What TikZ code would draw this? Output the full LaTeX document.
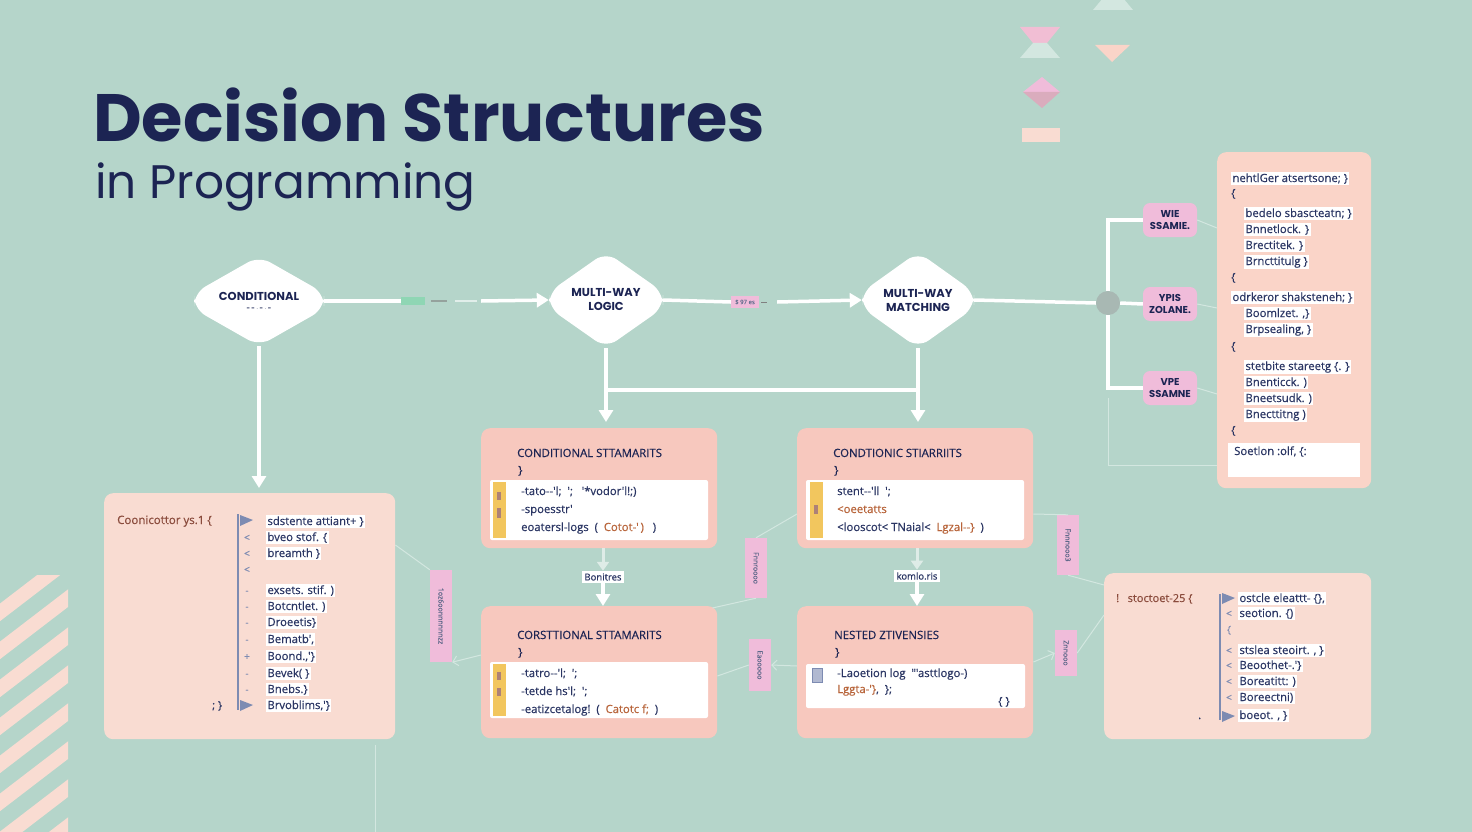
\documentclass[tikz,border=0pt]{standalone}
\usepackage{fontspec}
\setmainfont{Poppins}
\newfontfamily\codef{Open Sans}[FakeBold=0.5]
\usetikzlibrary{arrows.meta,calc}
\definecolor{bg}{HTML}{B5D5CA}
\definecolor{navy}{HTML}{1C2453}
\definecolor{ink}{HTML}{2A3563}
\definecolor{peachL}{HTML}{F9DCD2}
\definecolor{salmon}{HTML}{F7C8BE}
\definecolor{peachR}{HTML}{FAD4C8}
\definecolor{pinkL}{HTML}{F0BCDA}
\definecolor{brownT}{HTML}{8A4B3C}
\definecolor{orangeT}{HTML}{B8643A}
\definecolor{yel}{HTML}{F2C65E}
\definecolor{faint}{HTML}{D3E7E0}
\definecolor{slate}{HTML}{7D8BB2}
\definecolor{greenL}{HTML}{8FD6B4}
\definecolor{grayC}{HTML}{A8B8B3}
\newcommand\hexshape[4]{\fill[white, rounded corners=13pt] (#1,#2-#4) -- (#1+#3,#2-8) -- (#1+#3,#2+8) -- (#1,#2+#4) -- (#1-#3,#2+8) -- (#1-#3,#2-8) -- cycle;}
\begin{document}
\begin{tikzpicture}[x=1pt,y=-1pt,
 box/.style={rectangle, rounded corners=9pt, inner sep=0, anchor=north west},
 wire/.style={white, line width=3.5pt},
 tip/.style={-{Triangle[width=14pt,length=12pt]}},
 thinl/.style={faint, line width=1pt},
 dnode/.style={inner sep=0, align=center, font=\fontsize{11.5}{14}\selectfont\bfseries, text=navy},
 ln/.style={font=\codef\fontsize{11.3}{13}\selectfont, text=ink, anchor=base west, inner sep=1.3pt, fill=white},
 lnp/.style={font=\codef\fontsize{11.3}{13}\selectfont, text=ink, anchor=base west, inner sep=0pt},
 hdr/.style={font=\codef\fontsize{11.4}{13}\selectfont, text=navy, anchor=base west, inner sep=0pt},
 mk/.style={font=\codef\fontsize{10}{11}\selectfont, text=slate, anchor=base, inner sep=0pt},
 pl/.style={rectangle, rounded corners=7pt, fill=pinkL, align=center, font=\fontsize{10}{11.5}\selectfont\bfseries, text=navy, minimum width=54, minimum height=34, inner sep=0},
 pv/.style={rectangle, fill=pinkL, minimum width=22, inner sep=0},
 pvt/.style={rotate=-90, font=\codef\fontsize{7}{8}\selectfont, text=ink!75, inner sep=0},
 lab/.style={rectangle, fill=white, font=\codef\fontsize{9.5}{11}\selectfont, text=ink, inner sep=2.5pt}
]
\fill[bg] (0,0) rectangle (1472,832);
\useasboundingbox (0,0) rectangle (1472,832);

% decorations: stripes
\begin{scope}
\clip (0,575) rectangle (68,832);
\foreach \k in {0,...,8} \draw[peachL, line width=14pt] (-10,620+\k*38) -- (80,620+\k*38-69);
\end{scope}
% decorations: top right shapes
\fill[faint] (1093,10) -- (1133,10) -- (1123,-2) -- (1103,-2) -- cycle;
\fill[pinkL!80!salmon] (1020,27) -- (1060,27) -- (1047,43) -- (1033,43) -- cycle;
\fill[faint] (1033,43) -- (1047,43) -- (1060,58) -- (1020,58) -- cycle;
\fill[peachR] (1095,45) -- (1130,45) -- (1112,62) -- cycle;
\fill[pinkL] (1023,92) -- (1042,77) -- (1060,92) -- cycle;
\fill[pinkL!70!salmon!90!black] (1023,92) -- (1060,92) -- (1042,108) -- cycle;
\fill[peachL] (1022,128) rectangle (1060,142);

% title
\node[anchor=base west, inner sep=0, text=navy, font=\fontsize{67}{76}\selectfont\bfseries] (title) at (93,142) {Decision Structures};
\node[anchor=base west, inner sep=0, text=navy, font=\fontsize{47}{54}\selectfont] (subtitle) at (95,198) {in Programming};

% decision nodes
\hexshape{259}{301}{65}{45}
\node[dnode, minimum width=130, minimum height=90] (d1) at (259,301) {CONDITIONAL\\[-4pt]{\fontsize{6}{7}\selectfont - - $\cdot$ - $\cdot$ -}};
\hexshape{606}{300}{57}{48}
\node[dnode, minimum width=114, minimum height=96] (d2) at (606,300) {MULTI-WAY\\LOGIC};
\hexshape{918}{300}{56}{48}
\node[dnode, minimum width=112, minimum height=96] (d3) at (918,300) {MULTI-WAY\\MATCHING};

% boxes
\node[box, fill=peachL, minimum width=291, minimum height=246] (L) at (104,493) {};
\node[box, fill=salmon, minimum width=236, minimum height=120] (A) at (481,428) {};
\node[box, fill=salmon, minimum width=236, minimum height=120] (B) at (797,428) {};
\node[box, fill=salmon, minimum width=236, minimum height=132] (C) at (481,606) {};
\node[box, fill=salmon, minimum width=236, minimum height=132] (D) at (797,606) {};
\node[box, fill=peachR, minimum width=154, minimum height=336] (R) at (1217,152) {};
\node[box, fill=peachL, minimum width=267, minimum height=166] (E) at (1104,573) {};

% top row connectors
\node[rectangle, fill=greenL, minimum width=24, minimum height=8, inner sep=0] (g1) at (413,301) {};
\draw[wire] (d1.east) -- (g1.west);
\draw[line width=2pt, gray!60!bg] ($(g1.east)+(6,0)$) -- ($(g1.east)+(22,0)$);
\draw[line width=2pt, white!60!bg] ($(g1.east)+(30,0)$) -- ($(g1.east)+(52,0)$);
\draw[wire, tip] ($(g1.east)+(56,0)$) -- (d2.west);
\node[rectangle, fill=pinkL, minimum width=28, minimum height=12, inner sep=0, font=\codef\fontsize{6}{7}\selectfont, text=ink!70] (p1) at (745,302) {\$ 97 es};
\draw[wire] (d2.east) -- (p1.west);
\draw[line width=1pt, gray] ($(p1.east)+(2,0)$) -- ($(p1.east)+(8,0)$);
\draw[wire, tip] ($(p1.east)+(18,0)$) -- (d3.west);

\node[circle, fill=grayC, minimum size=24, inner sep=0] (c1) at (1108,303) {};
\node[pl] (y1) at (1170,220) {WIE\\SSAMIE.};
\node[pl] (y2) at (1170,304) {YPIS\\ZOLANE.};
\node[pl] (y3) at (1170,388) {VPE\\SSAMNE};
\draw[wire] (d3.east) -- (c1.west);
\draw[wire] (c1.east) -- (y2.west);
\draw[wire] (y1.west) -| (c1.north);
\draw[wire] (y3.west) -| (c1.south);
\draw[thinl] (y1.east) -- ($(R.west |- y1.east)+(0,8)$);
\draw[thinl] (y2.east) -- ($(R.west |- y2.east)+(0,4)$);
\draw[thinl] (y3.east) -- ($(R.west |- y3.east)+(0,6)$);
\draw[thinl] ($(c1.south)+(0,83)$) -- ($(c1.south)+(0,150)$) -- ($(R.west |- c1.south)+(0,150)$);

% vertical connectors
\draw[wire, tip, shorten >=5pt] (d1.south) -- (d1.south |- L.north);
\draw[wire, tip, shorten >=6pt] (d2.south) -- (d2.south |- A.north);
\draw[wire, tip, shorten >=6pt] (d3.south) -- (d3.south |- B.north);
\draw[wire] ($(d2.south)+(0,42)$) -- ($(d3.south)+(0,42)$);

\node[lab] (lb1) at (603,577) {Bonitres};
\node[lab] (lb2) at (917,576) {komlo.ris};
\draw[white!55!bg, line width=3pt, -{Triangle[width=12pt,length=9pt]}] (lb1.north |- A.south) -- (lb1.north);
\draw[wire, tip] (lb1.south) -- (lb1.south |- C.north);
\draw[white!55!bg, line width=3pt, -{Triangle[width=12pt,length=9pt]}] (lb2.north |- B.south) -- (lb2.north);
\draw[wire, tip] (lb2.south) -- (lb2.south |- D.north);

% pink vertical labels
\node[pv, minimum height=92] (pv1) at (441,616) {};
\node[pvt] (pv1t) at (pv1) {1oz6oonnnnnnzz};
\node[pv, minimum height=60] (pv2) at (756,568) {};
\node[pvt] (pv2t) at (pv2) {Fnnroooo};
\node[pv, minimum height=52] (pv3) at (760,665) {};
\node[pvt] (pv3t) at (pv3) {Eaooooo};
\node[pv, minimum height=60] (pv4) at (1068,545) {};
\node[pvt] (pv4t) at (pv4) {Fnnnooo3};
\node[pv, minimum height=46] (pv5) at (1066,653) {};
\node[pvt] (pv5t) at (pv5) {Znnooo};

\draw[thinl] ($(L.north east)+(0,52)$) -- (pv1.north west);
\draw[thinl, -{Straight Barb[length=5pt]}] ($(C.north west)+(0,49)$) -- (pv1.south east);
\draw[thinl] ($(B.north west)+(0,86)$) -- (pv2.north);
\draw[thinl] (pv2.south) -- ($(C.north east)+(-5,2)$);
\draw[thinl, -{Straight Barb[length=5pt]}] ($(D.north west)+(0,60)$) -- (pv3.east);
\draw[thinl] (pv3.west) -- ($(C.north east)+(0,70)$);
\draw[thinl] ($(B.north east)+(0,86)$) -- (pv4.north);
\draw[thinl] (pv4.south) -- ($(E.north west)+(0,12)$);
\draw[thinl, -{Straight Barb[length=5pt]}] ($(D.north east)+(0,56)$) -- (pv5.west);
\draw[thinl] (pv5.east) -- ($(E.north west)+(0,42)$);
\draw[thinl] ($(L.south east)+(-20,6)$) -- ($(L.south east)+(-20,95)$);

% left box content
\node[anchor=base west, inner sep=0, text=brownT, font=\codef\fontsize{11.5}{13}\selectfont] (Lh) at (117,524) {Coonicottor ys.1 \{};
\draw[slate, line width=1.5pt] (238,514) -- (238,710);
\fill[slate] (240,515) -- (253,520) -- (240,526) -- cycle;
\fill[slate] (240,700) -- (253,705) -- (240,711) -- cycle;
\node[anchor=base west, inner sep=0, text=ink, font=\codef\fontsize{11}{13}\selectfont] (Lf) at (212,709) {; \}};
\node[mk] (Lm1) at (247,541) {<};
\node[mk] (Lm2) at (247,557) {<};
\node[mk] (Lm3) at (247,573) {<};
\node[mk] (Lm4) at (247,594) {-};
\node[mk] (Lm5) at (247,610) {-};
\node[mk] (Lm6) at (247,626) {-};
\node[mk] (Lm7) at (247,643) {-};
\node[mk] (Lm8) at (247,660) {+};
\node[mk] (Lm9) at (247,677) {-};
\node[mk] (Lm10) at (247,693) {-};
\node[ln] (L1) at (266,525) {sdstente attiant+ \}};
\node[ln] (L2) at (266,541) {bveo stof. \{};
\node[ln] (L3) at (266,557) {breamth \}};
\node[ln] (L4) at (266,594) {exsets. stif. )};
\node[ln] (L5) at (266,610) {Botcntlet. )};
\node[ln] (L6) at (266,626) {Droeetis\}};
\node[ln] (L7) at (266,643) {Bematb',};
\node[ln] (L8) at (266,660) {Boond.,'\}};
\node[ln] (L9) at (266,677) {Bevek( \}};
\node[ln] (L10) at (266,693) {Bnebs.\}};
\node[ln] (L11) at (266,709) {Brvoblims,'\}};

% box A
\node[hdr] (At) at (517,457) {CONDITIONAL STTAMARITS};
\node[hdr] (Ab) at (518,474) {\}};
\fill[white, rounded corners=2pt] (490,480) rectangle (708,540);
\fill[yel] (493,482) rectangle (506,538);
\fill[brownT!70] (497,492) rectangle (501,500);
\fill[brownT!70] (497,508) rectangle (501,518);
\node[lnp] (A1) at (521,495) {-tato--'l;\ \ ';\ \ \ '*vodor'l!;)};
\node[lnp] (A2) at (521,513) {-spoesstr'};
\node[lnp] (A3) at (521,531) {eoatersl-logs\ \ (\ \ \textcolor{orangeT}{Cotot-'\,)}\ \ \ )};

% box B
\node[hdr] (Bt) at (833,457) {CONDTIONIC STIARRIITS};
\node[hdr] (Bb) at (834,474) {\}};
\fill[white, rounded corners=2pt] (806,480) rectangle (1024,540);
\fill[yel] (810,482) rectangle (823,538);
\fill[brownT!70] (814,505) rectangle (818,514);
\node[lnp] (B1) at (837,495) {stent--'ll\ \ ';};
\node[lnp, text=orangeT] (B2) at (837,513) {<oeetatts};
\node[lnp] (B3) at (837,531) {<looscot< TNaial<\ \ \textcolor{orangeT}{Lgzal--\}}\ \ )};

% box C
\node[hdr] (Ct) at (517,639) {CORSTTIONAL STTAMARITS};
\node[hdr] (Cb) at (518,656) {\}};
\fill[white, rounded corners=2pt] (490,662) rectangle (708,718);
\fill[yel] (493,664) rectangle (506,716);
\fill[brownT!70] (497,672) rectangle (501,680);
\fill[brownT!70] (497,688) rectangle (501,696);
\node[lnp] (C1) at (521,677) {-tatro--'l;\ \ ';};
\node[lnp] (C2) at (521,695) {-tetde hs'l;\ \ ';};
\node[lnp] (C3) at (521,713) {-eatizcetalog!\ \ (\ \ \textcolor{orangeT}{Catotc f;}\ \ )};

% box D
\node[hdr] (Dt) at (834,639) {NESTED ZTIVENSIES};
\node[hdr] (Db) at (835,656) {\}};
\fill[white, rounded corners=2pt] (806,664) rectangle (1025,708);
\fill[slate!60, draw=slate] (812,668) rectangle (822,682);
\node[lnp] (D1) at (837,677) {-Laoetion log\ \ "'asttlogo-)};
\node[lnp] (D2) at (837,693) {\textcolor{orangeT}{Lggta-'\}},\ \ \};};
\node[lnp] (D3) at (998,705) {\{ \}};

% right box content
\node[ln] (R1) at (1231,182) {nehtlGer atsertsone; \}};
\node[lnp] (R2) at (1231,197) {\{};
\node[ln] (R3) at (1244,217) {bedelo sbascteatn; \}};
\node[ln] (R4) at (1244,233) {Bnnetlock. \}};
\node[ln] (R5) at (1244,249) {Brectitek. \}};
\node[ln] (R6) at (1244,265) {Brncttitulg \}};
\node[lnp] (R7) at (1231,281) {\{};
\node[ln] (R8) at (1231,301) {odrkeror shaksteneh; \}};
\node[ln] (R9) at (1244,317) {Boomlzet. ,\}};
\node[ln] (R10) at (1244,333) {Brpsealing, \}};
\node[lnp] (R11) at (1231,350) {\{};
\node[ln] (R12) at (1244,370) {stetbite stareetg \{. \}};
\node[ln] (R13) at (1244,386) {Bnenticck. )};
\node[ln] (R14) at (1244,402) {Bneetsudk. )};
\node[ln] (R15) at (1244,418) {Bnecttitng )};
\node[lnp] (R16) at (1231,434) {\{};
\fill[white] (1228,443) rectangle (1360,477);
\node[lnp] (R17) at (1234,455) {Soetlon :olf, \{:};

% lower right box content
\node[anchor=base west, inner sep=0, text=brownT, font=\codef\fontsize{11}{13}\selectfont] (Eh) at (1116,602) {!\ \ \ stoctoet-25 \{};
\draw[slate, line width=1.5pt] (1220,594) -- (1220,720);
\fill[slate] (1222,593) -- (1235,598) -- (1222,604) -- cycle;
\fill[slate] (1222,711) -- (1235,716) -- (1222,722) -- cycle;
\node[anchor=base west, inner sep=0, text=ink, font=\codef\fontsize{11}{13}\selectfont] (Ef) at (1198,719) {.};
\node[mk] (Em1) at (1229,617) {<};
\node[mk] (Em2) at (1229,633) {\{};
\node[mk] (Em3) at (1229,654) {<};
\node[mk] (Em4) at (1229,669) {<};
\node[mk] (Em5) at (1229,685) {<};
\node[mk] (Em6) at (1229,701) {<};
\node[ln] (E1) at (1238,602) {ostcle eleattt- \{\},};
\node[ln] (E2) at (1238,617) {seotion. \{)};
\node[ln] (E3) at (1238,654) {stslea steoirt. , \}};
\node[ln] (E4) at (1238,669) {Beoothet-.'\}};
\node[ln] (E5) at (1238,685) {Boreatitt: )};
\node[ln] (E6) at (1238,701) {Boreectni)};
\node[ln] (E7) at (1238,719) {boeot. , \}};
\end{tikzpicture}
\end{document}
